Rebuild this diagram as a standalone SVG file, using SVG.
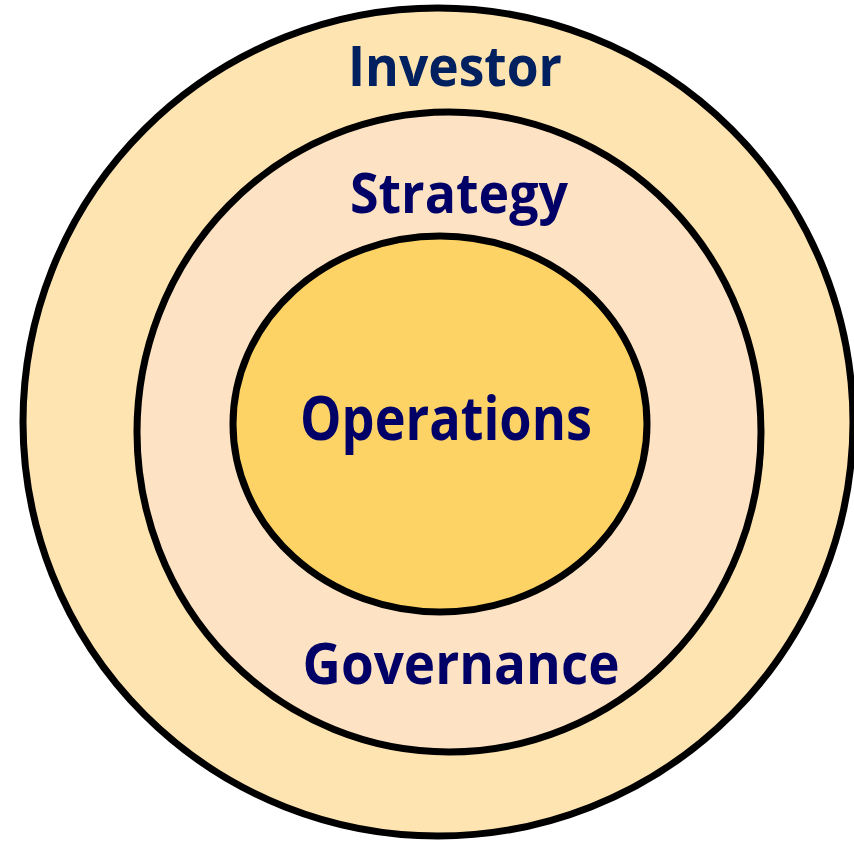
<svg xmlns="http://www.w3.org/2000/svg" width="854" height="841" viewBox="0 0 854 841">
<style>
.ring{stroke:#000;stroke-width:7}
.lbl{font-family:"Open Sans","Liberation Sans",sans-serif;font-weight:bold;text-anchor:middle}
</style>
<rect width="854" height="841" fill="#fff"/>
<g id="investor">
<ellipse class="ring" cx="438" cy="422" rx="415" ry="414" fill="#FEE4B0"/>
<text class="lbl" x="455" y="86" font-size="55" fill="#002060" textLength="214" lengthAdjust="spacingAndGlyphs">Investor</text>
</g>
<g id="strategy">
<ellipse class="ring" cx="449" cy="432" rx="312" ry="320" fill="#FDE3C3"/>
<text class="lbl" x="459" y="213" font-size="55" fill="#000066" textLength="218" lengthAdjust="spacingAndGlyphs">Strategy</text>
<text class="lbl" x="461" y="684" font-size="57" fill="#000066" textLength="317" lengthAdjust="spacingAndGlyphs">Governance</text>
</g>
<g id="operations">
<ellipse class="ring" cx="440" cy="424" rx="207" ry="188" fill="#FED366"/>
<text class="lbl" x="446" y="440" font-size="60" fill="#000066" textLength="292" lengthAdjust="spacingAndGlyphs">Operations</text>
</g>
<g id="connectors"/>
</svg>
